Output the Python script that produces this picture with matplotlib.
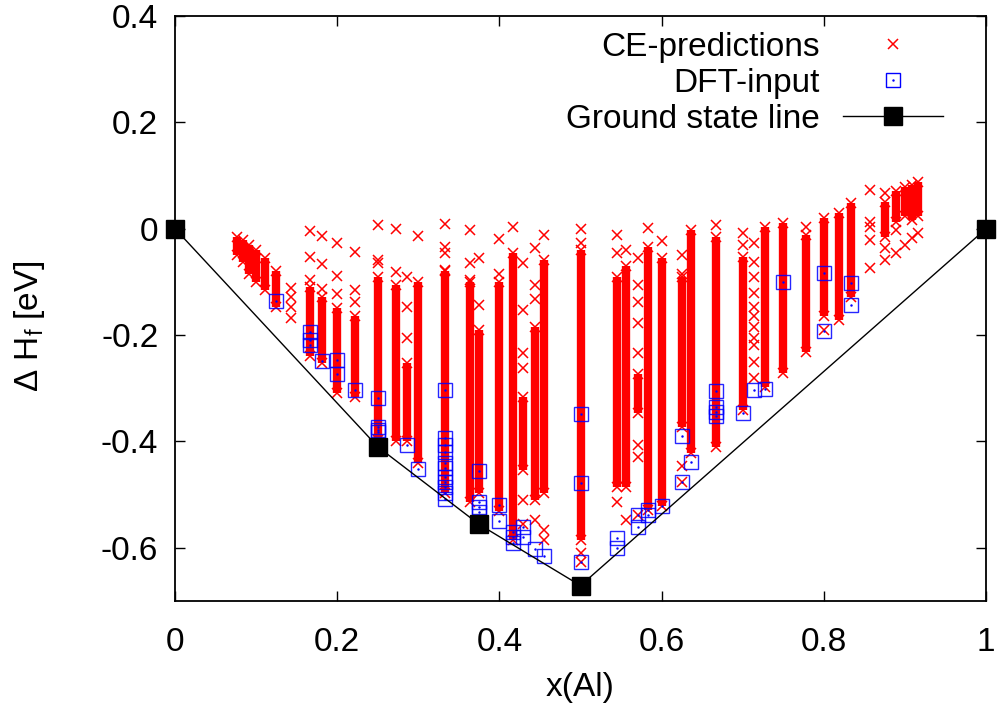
import numpy as np
import matplotlib
matplotlib.use("Agg")
import matplotlib.pyplot as plt
from matplotlib.lines import Line2D
from matplotlib.ticker import FormatStrFormatter, MultipleLocator

plt.rcParams['font.family'] = ['Liberation Sans', 'DejaVu Sans']
plt.rcParams['mathtext.fontset'] = 'custom'
plt.rcParams['mathtext.rm'] = 'Liberation Sans'
plt.rcParams['axes.unicode_minus'] = False

# CE-predictions: dense columns (composition, top, bottom) in eV
band_x = [1/13, 1/12, 1/11, 0.1, 1/9, 1/8, 1/6, 2/11, 0.2, 2/9, 0.25, 3/11, 2/7, 0.3,
          1/3, 4/11, 0.375, 0.4, 5/12, 3/7, 4/9, 5/11, 0.5, 6/11, 5/9, 4/7, 7/12, 0.6,
          0.625, 7/11, 2/3, 0.7, 8/11, 0.75, 7/9, 0.8, 9/11, 5/6, 0.875, 8/9, 0.9,
          10/11, 11/12]
band_top = [-0.015, -0.021, -0.030, -0.040, -0.055, -0.080, -0.109, -0.128, -0.149, -0.165,
            -0.090, -0.105, -0.252, -0.100, -0.080, -0.100, -0.190, -0.100, -0.045, -0.316,
            -0.184, -0.058, -0.040, -0.090, -0.071, -0.274, -0.034, -0.055, -0.090, -0.002,
            -0.015, -0.053, 0.004, 0.011, -0.011, 0.020, 0.030, 0.049, 0.050, 0.070, 0.079,
            0.083, 0.088]
band_bot = [-0.049, -0.062, -0.086, -0.100, -0.115, -0.147, -0.240, -0.252, -0.308, -0.316,
            -0.397, -0.400, -0.400, -0.440, -0.496, -0.513, -0.496, -0.530, -0.585, -0.453,
            -0.510, -0.496, -0.585, -0.485, -0.485, -0.346, -0.528, -0.522, -0.372, -0.421,
            -0.410, -0.340, -0.297, -0.271, -0.231, -0.165, -0.171, -0.128, -0.015, 0.013,
            0.023, 0.017, 0.023]

# CE-predictions: scattered single structures
ce_x = ([1/7] * 4 + [1/6] * 3 + [2/11] * 3 + [0.2] * 3 + [2/9] * 3 + [0.25] * 3
        + [3/11] * 2 + [2/7] * 3 + [0.3] + [1/3] * 4 + [4/11] * 3 + [0.375] * 2
        + [0.4] * 2 + [5/12] + [3/7] * 6 + [4/9] * 4 + [5/11] * 3 + [0.5] * 4
        + [6/11] * 3 + [5/9] * 2 + [4/7] * 8 + [7/12] + [0.6] + [0.625] * 4
        + [2/3] + [0.7] * 2 + [5/7] * 11 + [7/9] + [0.8] + [6/7] * 5 + [0.875] * 3
        + [8/9] * 2 + [0.9] + [10/11] + [11/12])
ce_y = [-0.111, -0.128, -0.147, -0.167,
        -0.004, -0.053, -0.096,
        -0.013, -0.066, -0.113,
        -0.026, -0.088, -0.122,
        -0.043, -0.115, -0.137,
        0.007, -0.058, -0.064,
        0.000, -0.081,
        -0.090, -0.147, -0.205,
        -0.013,
        0.009, -0.034, -0.045, -0.077,
        -0.002, -0.064, -0.096,
        -0.055, -0.143,
        -0.019, -0.086,
        0.004,
        -0.064, -0.152, -0.233, -0.261, -0.510, -0.556,
        -0.036, -0.105, -0.133, -0.547,
        -0.011, -0.566, -0.585,
        0.000, -0.026, -0.609, -0.626,
        -0.011, -0.045, -0.513,
        -0.040, -0.547,
        -0.056, -0.105, -0.137, -0.177, -0.233, -0.406, -0.429, -0.538,
        0.002,
        -0.024,
        -0.049, -0.086, -0.447, -0.477,
        0.007,
        -0.008, -0.030,
        -0.026, -0.062, -0.090, -0.120, -0.147, -0.165, -0.184, -0.205, -0.218, -0.250, -0.280,
        0.004,
        -0.190,
        0.073, 0.013, 0.004, -0.021, -0.073,
        0.068, -0.036, -0.058,
        -0.002, -0.045,
        -0.030,
        -0.017,
        -0.008]

# DFT-input structures
dft_x = ([1/8] + [1/6] * 3 + [2/11] + [0.2] * 2 + [2/9] + [0.25] * 5 + [2/7] + [0.3]
         + [1/3] * 11 + [0.375] * 5 + [0.4] * 2 + [5/12] * 3 + [3/7] * 2 + [4/9] + [5/11]
         + [0.5] * 4 + [6/11] * 2 + [4/7] * 2 + [7/12] * 2 + [0.6] + [0.625] * 2 + [7/11]
         + [2/3] * 4 + [0.7] + [5/7] + [8/11] + [0.75] + [0.8] * 2 + [5/6] * 2)
dft_y = [-0.135,
         -0.194, -0.209, -0.218,
         -0.248,
         -0.246, -0.273,
         -0.304,
         -0.318, -0.372, -0.378, -0.383, -0.410,
         -0.406,
         -0.451,
         -0.303, -0.393, -0.406, -0.419, -0.440, -0.449, -0.466, -0.476, -0.485, -0.496, -0.509,
         -0.456, -0.513, -0.523, -0.532, -0.556,
         -0.520, -0.549,
         -0.571, -0.580, -0.590,
         -0.560, -0.579,
         -0.603,
         -0.615,
         -0.348, -0.479, -0.626, -0.671,
         -0.581, -0.600,
         -0.538, -0.560,
         -0.528, -0.538,
         -0.521,
         -0.389, -0.477,
         -0.438,
         -0.306, -0.335, -0.344, -0.353,
         -0.346,
         -0.304,
         -0.302,
         -0.100,
         -0.083, -0.192,
         -0.102, -0.143]

# ground state line
gs_x = [0, 0.25, 0.375, 0.5, 1]
gs_y = [0, -0.41, -0.556, -0.671, 0]

fig = plt.figure(figsize=(9.99, 7.16), dpi=100)
ax = fig.add_axes([0.1752, 0.1606, 0.8118, 0.8171])

red = '#ff0000'
ax.vlines(band_x, band_bot, band_top, colors=red, linewidth=6.0, capstyle='butt', zorder=2)
ax.plot(band_x + band_x, band_top + band_bot, 'x', color=red, ms=7, mew=1.1, zorder=2)
ax.plot(ce_x, ce_y, 'x', color=red, ms=7, mew=1.1, zorder=2)

ax.plot(dft_x, dft_y, 's', mfc='none', mec='#0000ff', ms=10, mew=1, alpha=0.85, zorder=3)
ax.plot(dft_x, dft_y, '.', color='#0000ff', ms=1.5, zorder=3)

ax.plot(gs_x, gs_y, '-', color='black', lw=1.0, zorder=4)
ax.plot(gs_x, gs_y, 's', color='black', ms=13, zorder=5, clip_on=False)

ax.set_xlim(0, 1)
ax.set_ylim(-0.7, 0.4)
ax.xaxis.set_major_locator(MultipleLocator(0.2))
ax.yaxis.set_major_locator(MultipleLocator(0.2))
ax.xaxis.set_major_formatter(FormatStrFormatter('%g'))
ax.yaxis.set_major_formatter(FormatStrFormatter('%g'))
ax.tick_params(direction='in', length=7, width=1, top=True, right=True, labelsize=24)
ax.tick_params(axis='x', pad=19)
ax.tick_params(axis='y', pad=12)
for s in ax.spines.values():
    s.set_linewidth(1.3)

ax.set_xlabel('x(Al)', fontsize=24, labelpad=10)
ax.set_ylabel('Δ H$_\\mathrm{f}$ [eV]', fontsize=24)
ax.yaxis.set_label_coords(-0.158, 0.47)

h_ce = Line2D([], [], ls='none', marker='x', color=red, ms=7, mew=1.1)
h_dft = (Line2D([], [], ls='none', marker='s', mfc='none', mec='#0000ff', ms=10, mew=1),
         Line2D([], [], ls='none', marker='.', color='#0000ff', ms=1.5))
h_gs = Line2D([], [], color='black', lw=1.0, marker='s', ms=13)
ax.legend([h_ce, h_dft, h_gs], ['CE-predictions', 'DFT-input', 'Ground state line'],
          loc='upper right', bbox_to_anchor=(0.947, 0.973), markerfirst=False,
          frameon=False, fontsize=24, handlelength=3.0, handletextpad=0.7,
          labelspacing=0.15, borderaxespad=0, borderpad=0)

fig.savefig('out.png', dpi=100)
